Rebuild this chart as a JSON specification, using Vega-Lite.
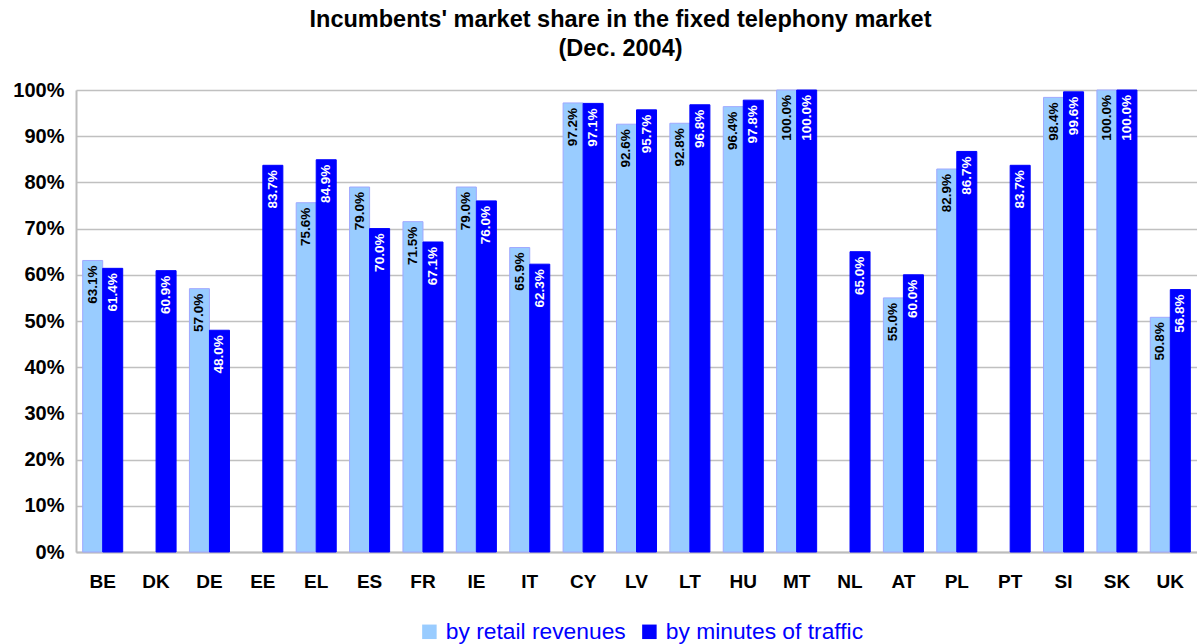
{
  "$schema": "https://vega.github.io/schema/vega-lite/v6.json",
  "width": 1121,
  "height": 462,
  "autosize": {"type": "none"},
  "padding": {"left": 76, "top": 90, "right": 0, "bottom": 92},
  "config": {"font": "Liberation Sans", "view": {"stroke": null}},
  "title": {
    "text": ["Incumbents' market share in the fixed telephony market", "(Dec. 2004)"],
    "fontSize": 23.5,
    "font": "Liberation Sans",
    "fontWeight": "bold",
    "color": "black",
    "lineHeight": 29,
    "offset": 20,
    "dx": -16
  },
  "data": {
    "values": [
      {"country": "BE", "series": "by retail revenues", "value": 0.631},
      {"country": "BE", "series": "by minutes of traffic", "value": 0.614},
      {"country": "DK", "series": "by minutes of traffic", "value": 0.609},
      {"country": "DE", "series": "by retail revenues", "value": 0.570},
      {"country": "DE", "series": "by minutes of traffic", "value": 0.480},
      {"country": "EE", "series": "by minutes of traffic", "value": 0.837},
      {"country": "EL", "series": "by retail revenues", "value": 0.756},
      {"country": "EL", "series": "by minutes of traffic", "value": 0.849},
      {"country": "ES", "series": "by retail revenues", "value": 0.790},
      {"country": "ES", "series": "by minutes of traffic", "value": 0.700},
      {"country": "FR", "series": "by retail revenues", "value": 0.715},
      {"country": "FR", "series": "by minutes of traffic", "value": 0.671},
      {"country": "IE", "series": "by retail revenues", "value": 0.790},
      {"country": "IE", "series": "by minutes of traffic", "value": 0.760},
      {"country": "IT", "series": "by retail revenues", "value": 0.659},
      {"country": "IT", "series": "by minutes of traffic", "value": 0.623},
      {"country": "CY", "series": "by retail revenues", "value": 0.972},
      {"country": "CY", "series": "by minutes of traffic", "value": 0.971},
      {"country": "LV", "series": "by retail revenues", "value": 0.926},
      {"country": "LV", "series": "by minutes of traffic", "value": 0.957},
      {"country": "LT", "series": "by retail revenues", "value": 0.928},
      {"country": "LT", "series": "by minutes of traffic", "value": 0.968},
      {"country": "HU", "series": "by retail revenues", "value": 0.964},
      {"country": "HU", "series": "by minutes of traffic", "value": 0.978},
      {"country": "MT", "series": "by retail revenues", "value": 1.0},
      {"country": "MT", "series": "by minutes of traffic", "value": 1.0},
      {"country": "NL", "series": "by minutes of traffic", "value": 0.650},
      {"country": "AT", "series": "by retail revenues", "value": 0.550},
      {"country": "AT", "series": "by minutes of traffic", "value": 0.600},
      {"country": "PL", "series": "by retail revenues", "value": 0.829},
      {"country": "PL", "series": "by minutes of traffic", "value": 0.867},
      {"country": "PT", "series": "by minutes of traffic", "value": 0.837},
      {"country": "SI", "series": "by retail revenues", "value": 0.984},
      {"country": "SI", "series": "by minutes of traffic", "value": 0.996},
      {"country": "SK", "series": "by retail revenues", "value": 1.0},
      {"country": "SK", "series": "by minutes of traffic", "value": 1.0},
      {"country": "UK", "series": "by retail revenues", "value": 0.508},
      {"country": "UK", "series": "by minutes of traffic", "value": 0.568}
    ]
  },
  "encoding": {
    "x": {
      "field": "country",
      "type": "nominal",
      "sort": ["BE","DK","DE","EE","EL","ES","FR","IE","IT","CY","LV","LT","HU","MT","NL","AT","PL","PT","SI","SK","UK"],
      "scale": {"paddingInner": 0.25, "paddingOuter": 0.125},
      "axis": {
        "title": null,
        "labelAngle": 0,
        "labelFontSize": 19,
        "labelFontWeight": "bold",
        "labelColor": "black",
        "labelPadding": 20,
        "ticks": false,
        "domainColor": "#BDBDBD",
        "domainWidth": 2,
        "grid": false
      }
    },
    "xOffset": {
      "field": "series",
      "type": "nominal",
      "sort": ["by retail revenues", "by minutes of traffic"],
      "scale": {"domain": ["by retail revenues", "by minutes of traffic"], "paddingInner": 0, "paddingOuter": 0}
    },
    "y": {
      "field": "value",
      "type": "quantitative",
      "scale": {"domain": [0, 1], "nice": false},
      "axis": {
        "title": null,
        "format": ".0%",
        "values": [0, 0.1, 0.2, 0.3, 0.4, 0.5, 0.6, 0.7, 0.8, 0.9, 1],
        "labelOverlap": false,
        "labelFontSize": 20,
        "labelFontWeight": "bold",
        "labelColor": "black",
        "labelPadding": 12,
        "ticks": false,
        "domainColor": "#BDBDBD",
        "domainWidth": 2,
        "gridColor": "#C0C0C0",
        "gridWidth": 1.5
      }
    }
  },
  "layer": [
    {
      "mark": {"type": "bar", "strokeWidth": 1},
      "encoding": {
        "color": {
          "field": "series",
          "type": "nominal",
          "scale": {"domain": ["by retail revenues", "by minutes of traffic"], "range": ["#99CCFF", "#0000FF"]},
          "legend": {
            "title": null,
            "orient": "none",
            "legendX": 342,
            "legendY": 530,
            "direction": "horizontal",
            "symbolType": "square",
            "symbolSize": 210,
            "symbolStrokeWidth": 0,
            "labelFontSize": 22.8,
            "labelLimit": 400,
            "labelColor": "#0000FF",
            "labelOffset": 5,
            "columnPadding": 12,
            "padding": 0
          }
        },
        "stroke": {
          "field": "series",
          "type": "nominal",
          "scale": {"domain": ["by retail revenues", "by minutes of traffic"], "range": ["#9FA8FF", "#0000FF"]},
          "legend": null
        }
      }
    },
    {
      "mark": {"type": "text", "angle": -90, "align": "right", "baseline": "middle", "dx": -5, "fontSize": 13.5, "fontWeight": "bold"},
      "encoding": {
        "text": {"field": "value", "type": "quantitative", "format": ".1%"},
        "color": {
          "field": "series",
          "type": "nominal",
          "scale": {"domain": ["by retail revenues", "by minutes of traffic"], "range": ["black", "white"]},
          "legend": null
        }
      }
    }
  ],
  "resolve": {"scale": {"color": "independent"}}
}
